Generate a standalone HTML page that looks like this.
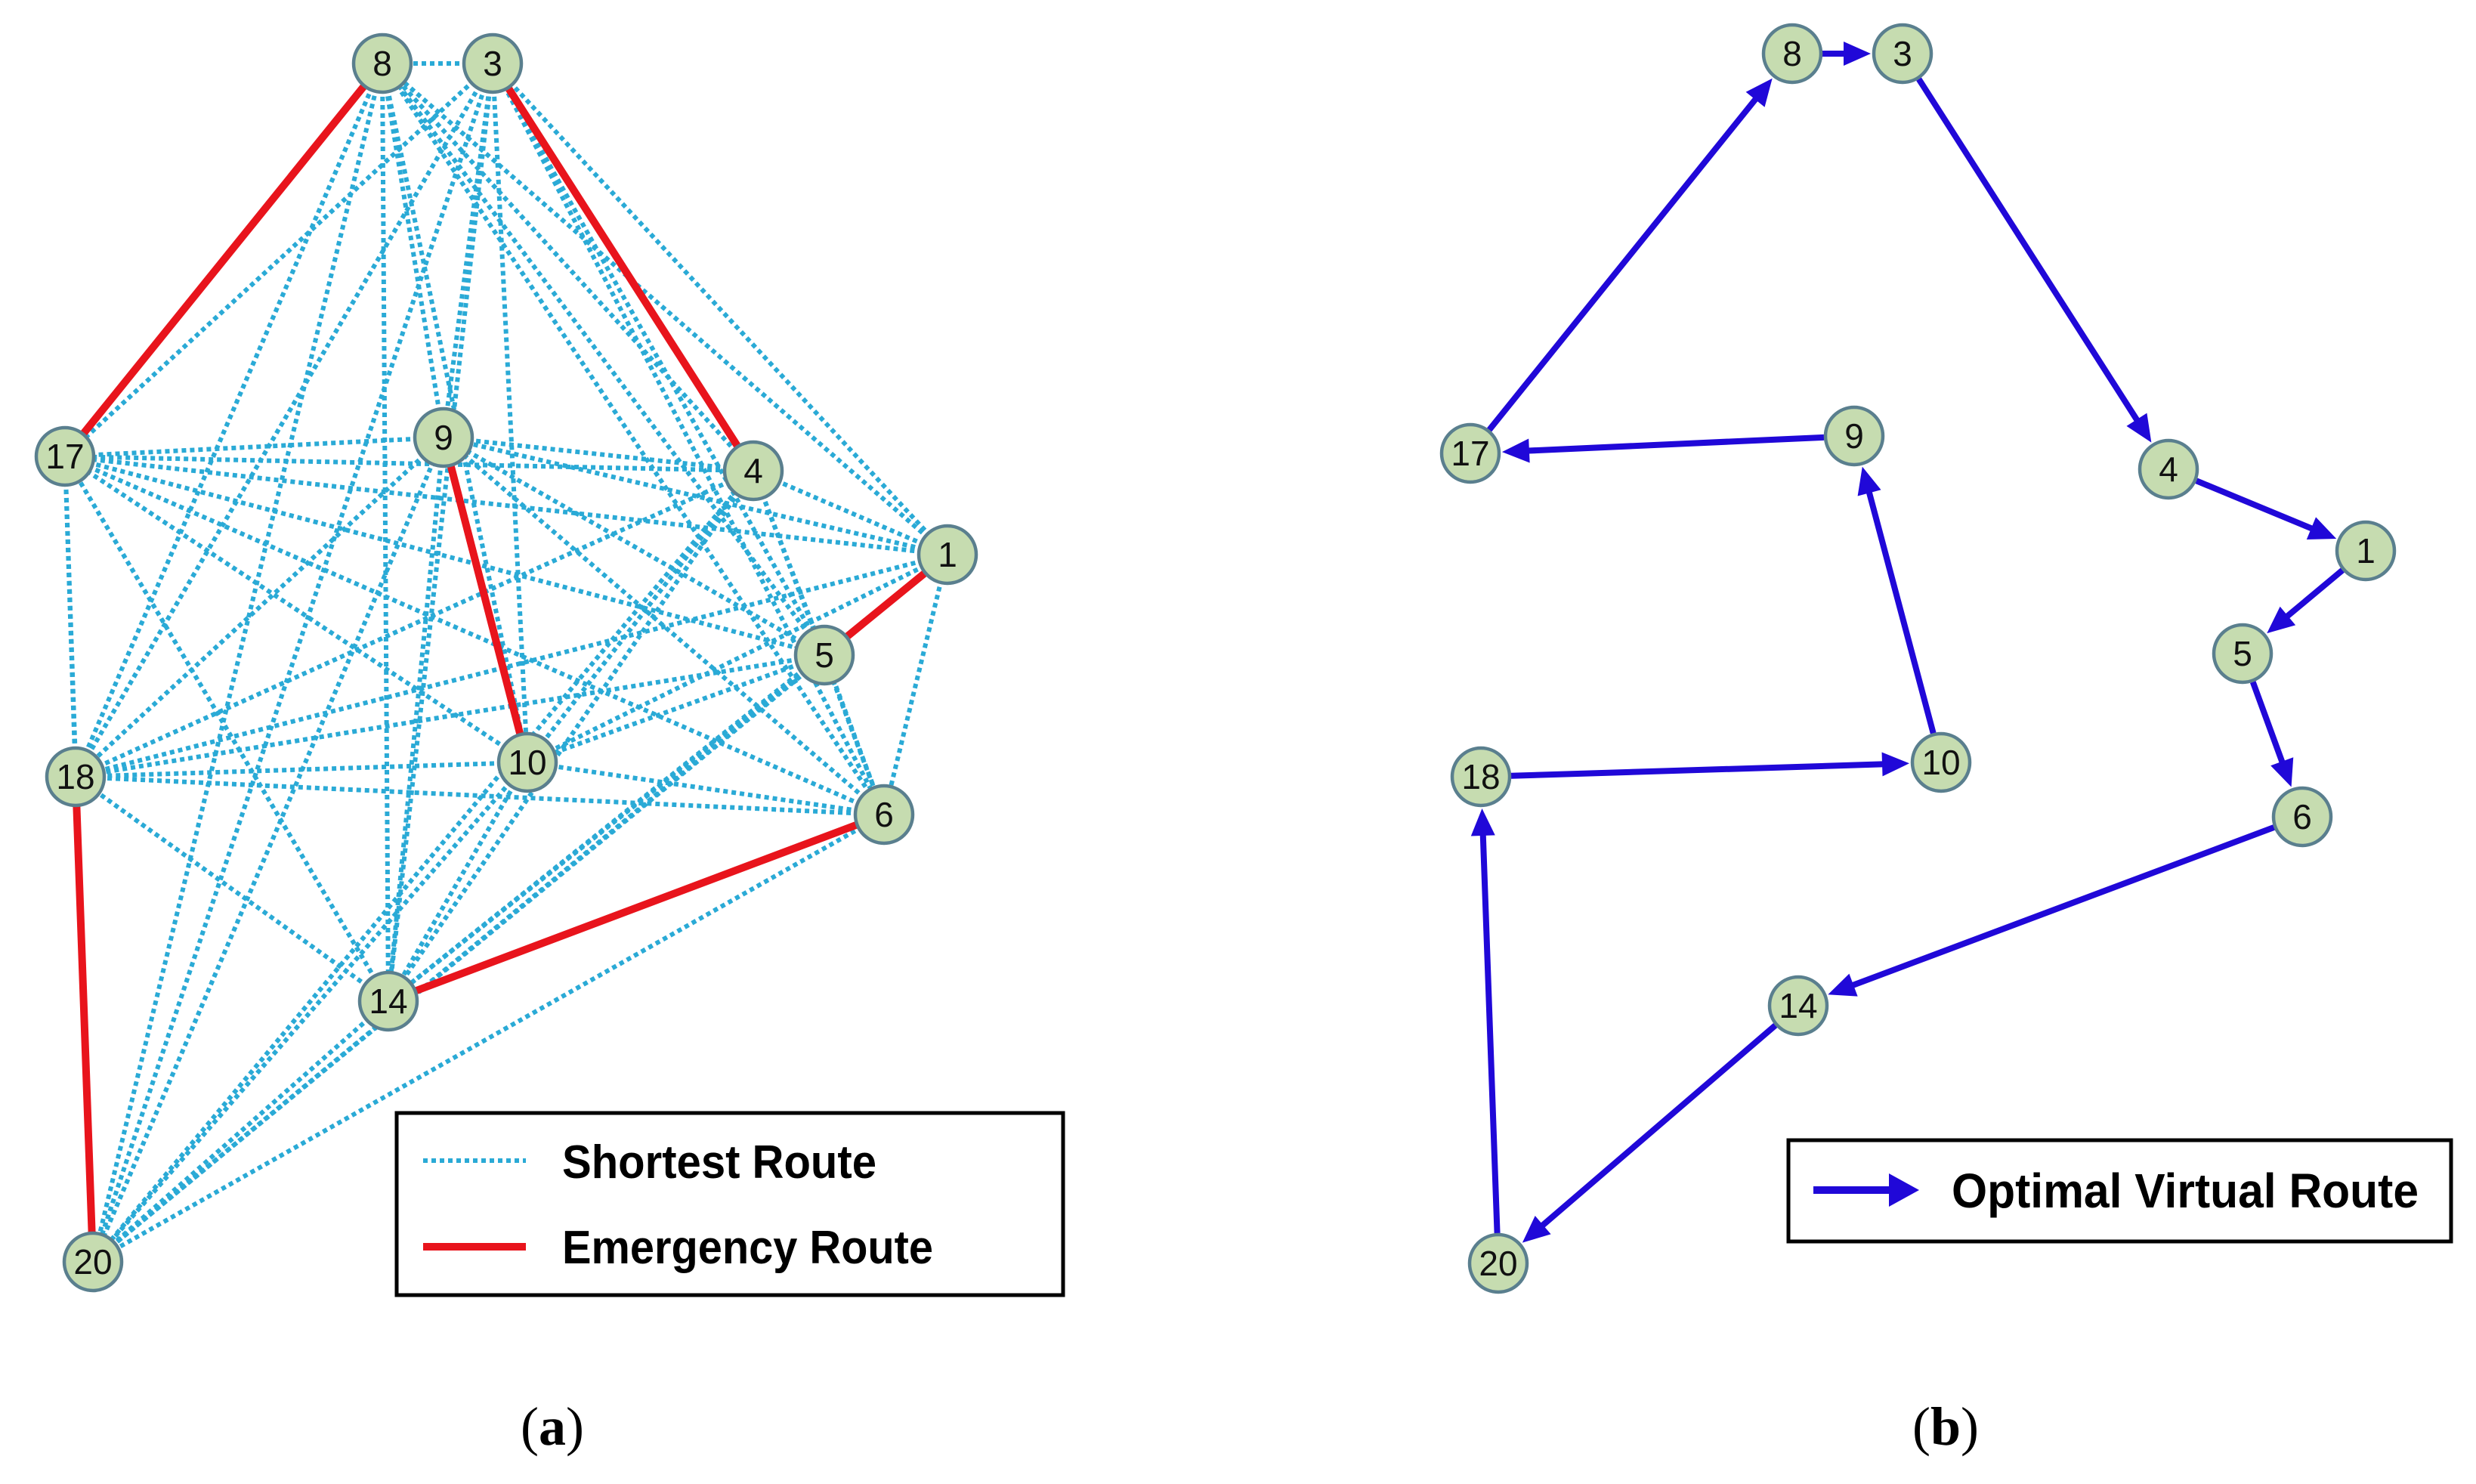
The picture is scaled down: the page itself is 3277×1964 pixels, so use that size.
<!DOCTYPE html>
<html><head><meta charset="utf-8"><style>
html,body{margin:0;padding:0;background:#fff}
svg{display:block}
</style></head><body>
<svg id="s" width="3277" height="1964" viewBox="0 0 3277 1964" xmlns="http://www.w3.org/2000/svg">
<rect width="3277" height="1964" fill="#fff"/>
<g id="dots" stroke="#2aaad6" stroke-width="6" stroke-dasharray="6 5" fill="none"></g>
<g id="reds" stroke="#e8141c" stroke-width="10" fill="none"></g>
<g id="blues" stroke="#2008d8" stroke-width="8" fill="#2008d8"></g>
<g id="nodes"></g>
<rect x="525" y="1473" width="882" height="241" fill="none" stroke="#000" stroke-width="5"/>
<line x1="560" y1="1536" x2="696" y2="1536" stroke="#2aaad6" stroke-width="6" stroke-dasharray="6 5"/>
<line x1="560" y1="1650" x2="696" y2="1650" stroke="#e8141c" stroke-width="10"/>
<text x="744" y="1559" font-family="Liberation Sans, sans-serif" font-weight="bold" font-size="62" textLength="416" lengthAdjust="spacingAndGlyphs">Shortest Route</text>
<text x="744" y="1672" font-family="Liberation Sans, sans-serif" font-weight="bold" font-size="62" textLength="491" lengthAdjust="spacingAndGlyphs">Emergency Route</text>
<rect x="2367" y="1509" width="877" height="134" fill="none" stroke="#000" stroke-width="5"/>
<line x1="2400" y1="1575" x2="2505" y2="1575" stroke="#2008d8" stroke-width="10"/>
<polygon points="2540,1575 2500,1553 2500,1597" fill="#2008d8"/>
<text x="2583" y="1598" font-family="Liberation Sans, sans-serif" font-weight="bold" font-size="64" textLength="618" lengthAdjust="spacingAndGlyphs">Optimal Virtual Route</text>
<text x="731" y="1912" text-anchor="middle" font-family="Liberation Serif, serif" font-size="72">(<tspan font-weight="bold">a</tspan>)</text>
<text x="2575" y="1912" text-anchor="middle" font-family="Liberation Serif, serif" font-size="72">(<tspan font-weight="bold">b</tspan>)</text>
</svg>
<script>
var NS="http://www.w3.org/2000/svg";
function el(t,a,p){var e=document.createElementNS(NS,t);for(var k in a)e.setAttribute(k,a[k]);p.appendChild(e);return e;}
var A={8:[506,84],3:[652,84],17:[86,604],9:[587,579],4:[997,623],1:[1254,734],5:[1091,867],18:[100,1028],10:[698,1009],6:[1170,1078],14:[514,1325],20:[123,1670]};
var B={8:[2372,71],3:[2518,71],17:[1946,600],9:[2454,577],4:[2870,621],1:[3131,729],5:[2968,865],18:[1960,1028],10:[2569,1009],6:[3047,1081],14:[2380,1331],20:[1983,1672]};
var red=[[8,17],[3,4],[9,10],[1,5],[6,14],[18,20]];
var keys=Object.keys(A);
function isRed(a,b){return red.some(function(r){return (r[0]==a&&r[1]==b)||(r[0]==b&&r[1]==a);});}
var dots=document.getElementById('dots'),reds=document.getElementById('reds'),blues=document.getElementById('blues'),nodes=document.getElementById('nodes');
for(var i=0;i<keys.length;i++)for(var j=i+1;j<keys.length;j++){
 var a=keys[i],b=keys[j];if(isRed(a,b))continue;
 el('line',{x1:A[a][0],y1:A[a][1],x2:A[b][0],y2:A[b][1]},dots);}
red.forEach(function(r){el('line',{x1:A[r[0]][0],y1:A[r[0]][1],x2:A[r[1]][0],y2:A[r[1]][1]},reds);});
var path=[17,8,3,4,1,5,6,14,20,18,10,9,17];
var R=40;
for(var k=0;k<path.length-1;k++){
 var p=B[path[k]],q=B[path[k+1]];var dx=q[0]-p[0],dy=q[1]-p[1],L=Math.hypot(dx,dy),ux=dx/L,uy=dy/L;
 var sx=p[0]+ux*R,sy=p[1]+uy*R,tx=q[0]-ux*(R+2),ty=q[1]-uy*(R+2);
 var bx=tx-ux*36,by=ty-uy*36;
 el('line',{x1:sx,y1:sy,x2:bx+ux*4,y2:by+uy*4},blues);
 el('polygon',{points:tx+','+ty+' '+(bx-uy*16)+','+(by+ux*16)+' '+(bx+uy*16)+','+(by-ux*16),stroke:'none'},blues);
}
function drawNodes(M){for(var n in M){var c=M[n];
 el('ellipse',{cx:c[0],cy:c[1],rx:38,ry:38,fill:'#c6dcb0',stroke:'#5a7f8e','stroke-width':4.5},nodes);
 var t=el('text',{x:c[0],y:c[1]+16,'text-anchor':'middle','font-family':'Liberation Sans, sans-serif','font-size':46,fill:'#111'},nodes);t.textContent=n;}}
drawNodes(A);drawNodes(B);
</script>
</body></html>
